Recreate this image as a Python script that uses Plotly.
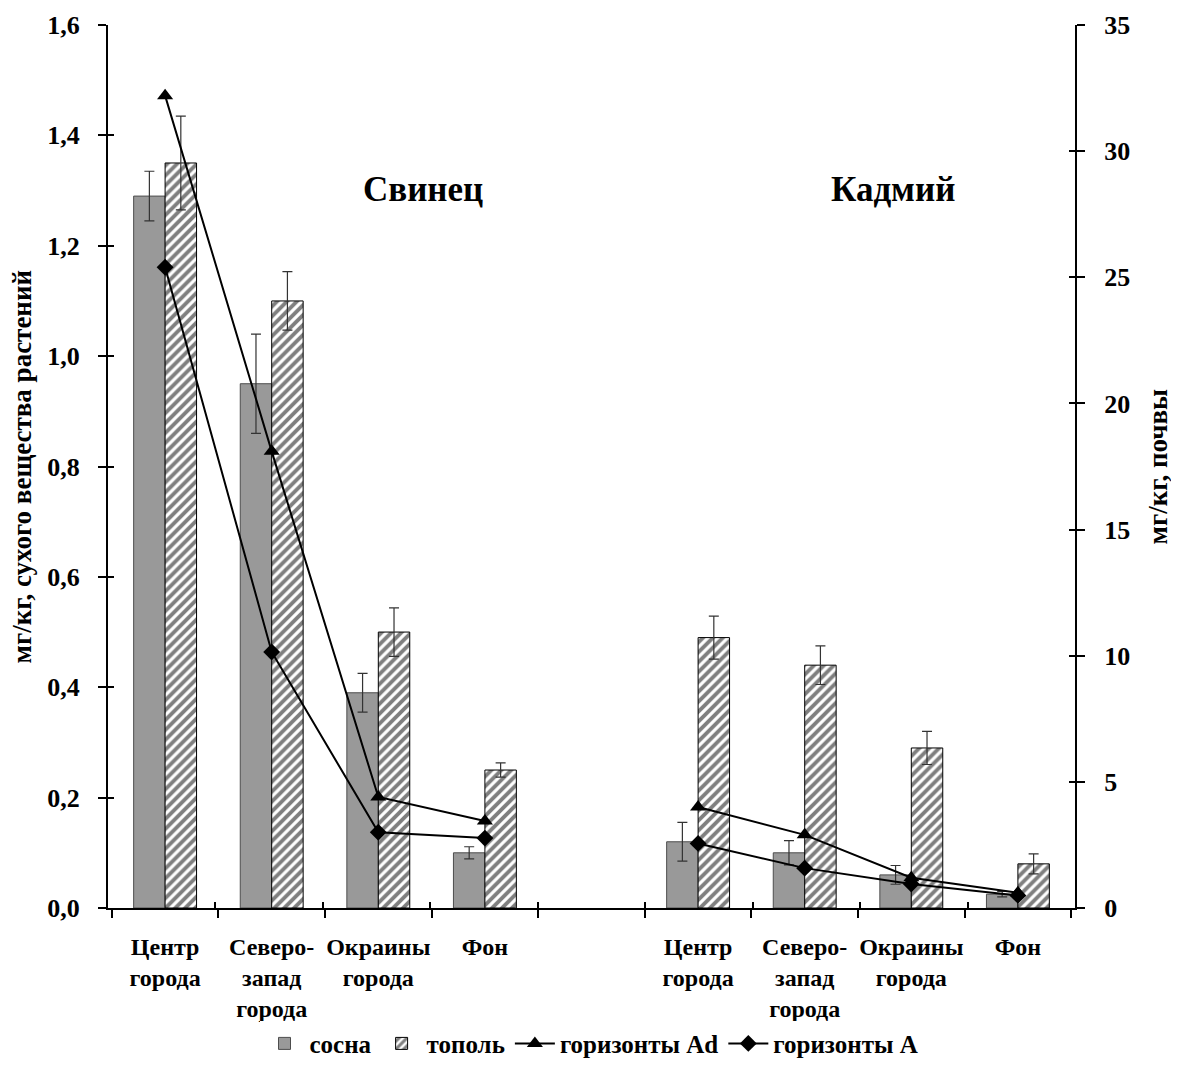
import plotly.graph_objects as go

categories = ["Центр<br>города", "Северо-<br>запад<br>города", "Окраины<br>города", "Фон", " ",
              "Центр<br>города\u200b", "Северо-<br>запад<br>города\u200b", "Окраины<br>города\u200b", "Фон\u200b"]
pine = [1.29, 0.95, 0.39, 0.10, None, 0.12, 0.10, 0.06, 0.025]
pine_err = [0.045, 0.09, 0.035, 0.011, None, 0.035, 0.022, 0.017, 0.005]
poplar = [1.35, 1.10, 0.50, 0.25, None, 0.49, 0.44, 0.29, 0.08]
poplar_err = [0.085, 0.053, 0.044, 0.013, None, 0.039, 0.035, 0.03, 0.018]
soil_ad = [32.2, 18.1, 4.4, 3.45, None, 4.0, 2.9, 1.2, 0.6]
soil_a = [25.4, 10.15, 3.0, 2.77, None, 2.56, 1.58, 0.95, 0.5]
metals = ["Свинец", "Кадмий"]

SERIF = "Liberation Serif"
TICKF = dict(family=SERIF, size=26, color="black", weight="bold")

W, H = 1163, 1071
L, R, T, B = 100, 96, 17, 169
PW, PH = W - L - R, H - T - B

fig = go.Figure()
fig.add_trace(go.Bar(
    x=categories, y=pine, name="сосна",
    marker=dict(color="#999999", line=dict(color="#4d4d4d", width=1)),
    error_y=dict(type="data", array=pine_err, color="#333333", thickness=1.2, width=5),
))
fig.add_trace(go.Bar(
    x=categories, y=poplar, name="тополь",
    marker=dict(color="white", line=dict(color="black", width=1),
                pattern=dict(shape="/", fgcolor="black", bgcolor="white", size=7, solidity=0.55)),
    error_y=dict(type="data", array=poplar_err, color="#333333", thickness=1.2, width=5),
))
fig.add_trace(go.Scatter(
    x=categories, y=soil_ad, name="горизонты Ad", yaxis="y2", mode="lines+markers",
    line=dict(color="black", width=2), marker=dict(symbol="triangle-up", size=14, color="black"),
    connectgaps=False,
))
fig.add_trace(go.Scatter(
    x=categories, y=soil_a, name="горизонты A", yaxis="y2", mode="lines+markers",
    line=dict(color="black", width=2), marker=dict(symbol="diamond", size=13, color="black"),
    connectgaps=False,
))
# invisible helper traces so that the inner tick axes are drawn (crossing ticks)
fig.add_trace(go.Scatter(x=[0], y=[0], xaxis="x2", yaxis="y3", mode="markers",
                         marker=dict(opacity=0), showlegend=False, hoverinfo="skip"))
fig.add_trace(go.Scatter(x=[0], y=[0], xaxis="x2", yaxis="y4", mode="markers",
                         marker=dict(opacity=0), showlegend=False, hoverinfo="skip"))

tick_common = dict(tickwidth=2, tickcolor="black", showgrid=False, zeroline=False, automargin=False)

fig.update_layout(
    width=W, height=H,
    paper_bgcolor="white", plot_bgcolor="white",
    margin=dict(l=L, r=R, t=T, b=B),
    barmode="group", bargap=0.41, bargroupgap=0,
    separators=", ",
    showlegend=True,
    legend=dict(orientation="h", x=0.5, xanchor="center", y=-(B - 10) / PH, yanchor="bottom",
                font=dict(family=SERIF, size=25, color="black", weight="bold"), traceorder="normal",
                itemwidth=40, tracegroupgap=0),
    xaxis=dict(
        type="category", categoryorder="array", categoryarray=categories,
        tickson="boundaries", ticks="outside", ticklen=8, tickangle=0,
        showline=True, linecolor="black", linewidth=2,
        tickfont=dict(family=SERIF, size=24, color="black", weight="bold"),
        ticklabelstandoff=16, **tick_common,
    ),
    xaxis2=dict(range=[0, 9], tickvals=list(range(10)), ticks="inside", ticklen=6,
                showticklabels=False, overlaying="x", showline=False, **tick_common),
    yaxis=dict(
        range=[0, 1.6], dtick=0.2, tickformat=".1f",
        ticks="outside", ticklen=8,
        showline=True, linecolor="black", linewidth=2,
        tickfont=TICKF, ticklabelstandoff=13, **tick_common,
    ),
    yaxis2=dict(
        range=[0, 35], dtick=5, overlaying="y", side="right",
        ticks="outside", ticklen=8,
        showline=True, linecolor="black", linewidth=2,
        tickfont=TICKF, ticklabelstandoff=14, **tick_common,
    ),
    yaxis3=dict(range=[0, 1.6], dtick=0.2, overlaying="y", side="left", anchor="x2",
                ticks="inside", ticklen=6, showticklabels=False, showline=False, **tick_common),
    yaxis4=dict(range=[0, 35], dtick=5, overlaying="y", side="right", anchor="x2",
                ticks="inside", ticklen=6, showticklabels=False, showline=False, **tick_common),
    font=dict(family=SERIF, color="black"),
)

fig.add_annotation(text="<b>мг/кг, сухого вещества растений</b>", xref="paper", yref="paper",
                   x=(21 - 8 - L) / PW, y=0.5, xanchor="center", yanchor="middle", textangle=-90,
                   showarrow=False, font=dict(family=SERIF, size=27, color="black"))
fig.add_annotation(text="<b>мг/кг, почвы</b>", xref="paper", yref="paper",
                   x=(1157 - 8 - L) / PW, y=0.5, xanchor="center", yanchor="middle", textangle=-90,
                   showarrow=False, font=dict(family=SERIF, size=27, color="black"))
fig.add_annotation(text="<b>" + metals[0] + "</b>", xref="paper", yref="paper",
                   x=(423 - 108) / PW, y=(910 - 190) / PH, xanchor="center", yanchor="middle",
                   showarrow=False, font=dict(family=SERIF, size=35, color="black"))
fig.add_annotation(text="<b>" + metals[1] + "</b>", xref="paper", yref="paper",
                   x=(893 - 108) / PW, y=(910 - 190) / PH, xanchor="center", yanchor="middle",
                   showarrow=False, font=dict(family=SERIF, size=35, color="black"))

fig.write_html("out.html")
